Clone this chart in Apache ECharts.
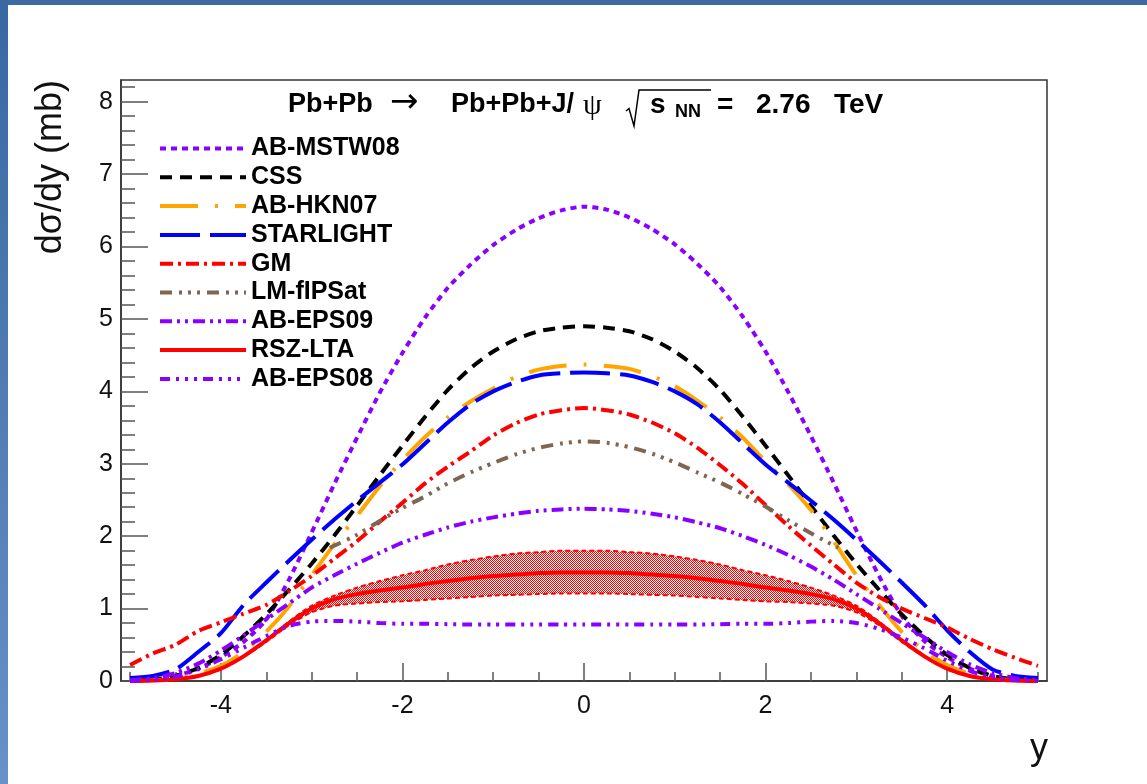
<!DOCTYPE html>
<html><head><meta charset="utf-8">
<script src="https://cdn.jsdelivr.net/npm/echarts@6/dist/echarts.min.js"></script>
<style>html,body{margin:0;padding:0;background:#fff;}#c{width:1147px;height:784px;}</style>
</head><body><div id="c"></div>
<script>
// ---- data ----
const X = [-5,-4.75,-4.5,-4.25,-4,-3.75,-3.5,-3.25,-3,-2.75,-2.5,-2.25,-2,-1.75,-1.5,-1.25,-1,-0.75,-0.5,-0.25,0,0.25,0.5,0.75,1,1.25,1.5,1.75,2,2.25,2.5,2.75,3,3.25,3.5,3.75,4,4.25,4.5,4.75,5];
const AB_MSTW08 = [0.00,0.02,0.07,0.17,0.33,0.54,0.85,1.40,2.05,2.72,3.36,3.98,4.53,5.02,5.43,5.75,6.02,6.23,6.39,6.50,6.55,6.51,6.40,6.24,6.03,5.76,5.44,5.03,4.55,3.99,3.38,2.74,2.08,1.45,0.90,0.55,0.33,0.17,0.07,0.02,0.00];
const CSS = [0.005,0.02,0.07,0.18,0.36,0.62,0.92,1.26,1.62,2.01,2.42,2.84,3.25,3.65,4.02,4.32,4.55,4.72,4.83,4.88,4.90,4.88,4.83,4.72,4.55,4.32,4.02,3.65,3.25,2.84,2.42,2.01,1.62,1.26,0.92,0.62,0.36,0.18,0.07,0.02,0.005];
const AB_HKN07 = [0.00,0.01,0.03,0.10,0.21,0.40,0.68,1.03,1.46,1.89,2.28,2.69,3.05,3.37,3.64,3.86,4.04,4.20,4.30,4.35,4.37,4.35,4.31,4.21,4.07,3.87,3.64,3.36,3.03,2.72,2.36,1.93,1.46,1.05,0.68,0.42,0.22,0.10,0.04,0.01,0.00];
const STARLIGHT = [0.04,0.07,0.16,0.40,0.66,1.05,1.36,1.66,1.95,2.23,2.49,2.74,2.99,3.28,3.57,3.82,4.00,4.13,4.22,4.25,4.26,4.25,4.22,4.13,4.00,3.82,3.57,3.28,2.99,2.74,2.49,2.23,1.95,1.66,1.36,1.05,0.70,0.40,0.16,0.07,0.04];
const GM = [0.22,0.38,0.50,0.69,0.81,0.93,1.05,1.24,1.45,1.69,1.93,2.20,2.46,2.73,2.96,3.17,3.39,3.56,3.68,3.74,3.77,3.74,3.68,3.57,3.42,3.22,2.98,2.72,2.43,2.14,1.87,1.61,1.36,1.16,1.00,0.87,0.74,0.58,0.44,0.32,0.21];
const X_LM = [-2.8,-2.5,-2.25,-2,-1.75,-1.5,-1.25,-1,-0.75,-0.5,-0.25,0,0.25,0.5,0.75,1,1.25,1.5,1.75,2,2.25,2.5,2.8];
const LM_fIPSat = [1.84,2.02,2.21,2.39,2.55,2.73,2.88,3.01,3.13,3.22,3.28,3.31,3.29,3.23,3.14,3.02,2.88,2.74,2.58,2.41,2.22,2.04,1.84];
const AB_EPS09 = [0.01,0.04,0.11,0.24,0.42,0.63,0.85,1.07,1.29,1.46,1.62,1.77,1.91,2.02,2.12,2.20,2.26,2.31,2.35,2.37,2.38,2.37,2.35,2.31,2.26,2.19,2.11,2.00,1.88,1.74,1.58,1.40,1.20,1.00,0.80,0.60,0.40,0.23,0.11,0.04,0.01];
const RSZ_LTA = [0.0,0.008,0.025,0.07,0.17,0.34,0.56,0.80,1.00,1.13,1.20,1.25,1.29,1.34,1.38,1.42,1.45,1.47,1.49,1.50,1.50,1.50,1.49,1.47,1.45,1.42,1.38,1.34,1.29,1.25,1.20,1.13,1.00,0.80,0.56,0.34,0.17,0.07,0.025,0.008,0.0];
const RSZ_UP = [0.0,0.008,0.025,0.07,0.17,0.35,0.57,0.82,1.04,1.18,1.29,1.38,1.46,1.53,1.61,1.67,1.72,1.76,1.78,1.80,1.80,1.80,1.78,1.76,1.72,1.67,1.61,1.53,1.46,1.38,1.29,1.18,1.04,0.82,0.57,0.35,0.17,0.07,0.025,0.008,0.0];
const RSZ_LO = [0.0,0.008,0.025,0.07,0.16,0.33,0.54,0.77,0.95,1.04,1.07,1.09,1.10,1.12,1.14,1.16,1.18,1.19,1.20,1.21,1.21,1.21,1.20,1.19,1.18,1.16,1.14,1.12,1.10,1.09,1.07,1.04,0.95,0.77,0.54,0.33,0.16,0.07,0.025,0.008,0.0];
const AB_EPS08 = [0.0,0.015,0.06,0.16,0.30,0.46,0.62,0.76,0.82,0.83,0.82,0.80,0.79,0.79,0.785,0.78,0.78,0.78,0.78,0.78,0.78,0.78,0.78,0.78,0.78,0.78,0.785,0.79,0.79,0.80,0.82,0.83,0.80,0.72,0.60,0.45,0.28,0.14,0.05,0.015,0.0];
const LEGEND_NAMES = ['AB-MSTW08','CSS','AB-HKN07','STARLIGHT','GM','LM-fIPSat','AB-EPS09','RSZ-LTA','AB-EPS08'];
const X_MAJOR = [-4,-2,0,2,4];
const X_MINOR = [-5,-4.5,-3.5,-3,-2.5,-1.5,-1,-0.5,0.5,1,1.5,2.5,3,3.5,4.5,5];
const Y_MAJOR = [0,1,2,3,4,5,6,7,8];
const Y_MINOR = [0.2,0.4,0.6,0.8,1.2,1.4,1.6,1.8,2.2,2.4,2.6,2.8,3.2,3.4,3.6,3.8,4.2,4.4,4.6,4.8,5.2,5.4,5.6,5.8,6.2,6.4,6.6,6.8,7.2,7.4,7.6,7.8,8.2];

// ---- styling ----
const FONT = '"Liberation Sans", Arial, Helvetica, sans-serif';
const VIOLET = '#8a00ff';
const pairs = (xs, ys) => xs.map((x, i) => [x, ys[i]]);
const seriesDefs = [
  {name:'AB-MSTW08', xs:X, ys:AB_MSTW08, color:VIOLET, dash:[6,5]},
  {name:'CSS', xs:X, ys:CSS, color:'#000000', dash:[12,8]},
  {name:'AB-HKN07', xs:X, ys:AB_HKN07, color:'#ffa500', dash:[38,17,3,17]},
  {name:'STARLIGHT', xs:X, ys:STARLIGHT, color:'#0000ff', dash:[40,10]},
  {name:'GM', xs:X, ys:GM, color:'#ff0000', dash:[13,5,3,5]},
  {name:'LM-fIPSat', xs:X_LM, ys:LM_fIPSat, color:'#7f6652', dash:[12,7,3,6,3,6,3,7]},
  {name:'AB-EPS09', xs:X, ys:AB_EPS09, color:VIOLET, dash:[12,5,3,5,3,5]},
  {name:'RSZ-LTA', xs:X, ys:RSZ_LTA, color:'#ff0000', dash:'solid'},
  {name:'AB-EPS08', xs:X, ys:AB_EPS08, color:VIOLET, dash:[10,6,3,6,3,6,3,6]}
];

// checkered red pattern for the RSZ-LTA band
const pc = document.createElement('canvas');
pc.width = 2; pc.height = 2;
const pctx = pc.getContext('2d');
pctx.fillStyle = '#ff0000';
pctx.fillRect(0,0,1,1); pctx.fillRect(1,1,1,1);
const bandFill = {image: pc, repeat: 'repeat'};

const series = [];
series.push({
  type:'custom', name:'RSZ band', xAxisIndex:0, yAxisIndex:0, z:1, silent:true, clip:true,
  data:[[0,0]], encode:{x:0, y:1},
  renderItem:(params, api) => {
    if (params.dataIndex !== 0) return null;
    const pts = [];
    for (let i = 0; i < X.length; i++) pts.push(api.coord([X[i], RSZ_UP[i]]));
    for (let i = X.length - 1; i >= 0; i--) pts.push(api.coord([X[i], RSZ_LO[i]]));
    return {type:'polygon', shape:{points:pts, smooth:0.25}, style:{fill:bandFill, stroke:null}};
  }
});
[RSZ_UP, RSZ_LO].forEach((arr, k) => series.push({
  type:'line', name:'RSZ edge ' + k, data:pairs(X, arr), showSymbol:false, symbol:'none',
  smooth:0.25, silent:true, z:2,
  lineStyle:{color:'#ff0000', width:2, type:[5,3]}
}));
seriesDefs.forEach(d => series.push({
  type:'line', name:d.name, data:pairs(d.xs, d.ys), showSymbol:false, symbol:'none',
  smooth:0.25, z:3,
  itemStyle:{color:d.color},
  lineStyle:{color:d.color, width:4, type:d.dash}
}));

const tickStyle = {color:'#555', width:1.5};
const option = {
  animation:false,
  backgroundColor:'#ffffff',
  grid:{left:121, right:100, top:80, bottom:103, show:true, borderColor:'#333', borderWidth:1.5, backgroundColor:'transparent'},
  xAxis:[
    {type:'value', min:-5.1, max:5.1, position:'bottom',
     axisLine:{show:true, onZero:false, lineStyle:{color:'#333', width:1.5}},
     axisTick:{show:true, inside:true, length:18, customValues:X_MAJOR, lineStyle:tickStyle},
     axisLabel:{show:true, customValues:X_MAJOR, fontSize:25, fontFamily:FONT, color:'#111', margin:13},
     splitLine:{show:false}},
    {type:'value', min:-5.1, max:5.1, position:'bottom',
     axisLine:{show:false, onZero:false},
     axisTick:{show:true, inside:true, length:9, customValues:X_MINOR, lineStyle:tickStyle},
     axisLabel:{show:false}, splitLine:{show:false}}
  ],
  yAxis:[
    {type:'value', min:0, max:8.3, position:'left',
     axisLine:{show:true, onZero:false, lineStyle:{color:'#333', width:1.5}},
     axisTick:{show:true, inside:true, length:27, customValues:Y_MAJOR, lineStyle:tickStyle},
     axisLabel:{show:true, customValues:Y_MAJOR, fontSize:25, fontFamily:FONT, color:'#111', margin:8},
     splitLine:{show:false}},
    {type:'value', min:0, max:8.3, position:'left',
     axisLine:{show:false, onZero:false},
     axisTick:{show:true, inside:true, length:14, customValues:Y_MINOR, lineStyle:tickStyle},
     axisLabel:{show:false}, splitLine:{show:false}}
  ],
  legend:{
    orient:'vertical', left:153, top:131, itemWidth:86, itemHeight:12, itemGap:3.8,
    selectedMode:false, data:LEGEND_NAMES,
    itemStyle:{opacity:0},
    lineStyle:{width:4},
    textStyle:{fontFamily:FONT, fontSize:25, fontWeight:'bold', color:'#000', lineHeight:25}
  },
  graphic:[
    {type:'rect', silent:true, shape:{x:0, y:0, width:1147, height:5}, style:{fill:'#3d6aa3'}},
    {type:'rect', silent:true, shape:{x:0, y:0, width:8, height:784},
     style:{fill:new echarts.graphic.LinearGradient(0,0,0,1,[{offset:0,color:'#3a67a0'},{offset:1,color:'#6791c7'}])}},
    {type:'text', x:51, y:80, rotation:Math.PI/2,
     style:{text:'dσ/dy (mb)', font:'36px ' + FONT, fill:'#111', align:'right', verticalAlign:'middle'}},
    {type:'text', x:1048, y:749,
     style:{text:'y', font:'36px ' + FONT, fill:'#111', align:'right', verticalAlign:'middle'}},
    {type:'text', x:288, y:105, style:{text:'Pb+Pb', font:'bold 27px ' + FONT, fill:'#000', align:'left', verticalAlign:'middle'}},
    {type:'text', x:390, y:103, style:{text:'→', font:'34px "DejaVu Sans", sans-serif', fill:'#000', align:'left', verticalAlign:'middle'}},
    {type:'text', x:451, y:105, style:{text:'Pb+Pb+J/', font:'bold 27px ' + FONT, fill:'#000', align:'left', verticalAlign:'middle'}},
    {type:'text', x:583, y:106, style:{text:'ψ', font:'30px "Liberation Serif", "DejaVu Serif", serif', fill:'#000', align:'left', verticalAlign:'middle'}},
    {type:'polyline', silent:true, shape:{points:[[626,111],[629,108.5],[634,126],[639,90],[711,90]]}, style:{stroke:'#000', lineWidth:1.5, fill:null}},
    {type:'text', x:650, y:105, style:{text:'s', font:'bold 28px ' + FONT, fill:'#000', align:'left', verticalAlign:'middle'}},
    {type:'text', x:675, y:112, style:{text:'NN', font:'bold 18px ' + FONT, fill:'#000', align:'left', verticalAlign:'middle'}},
    {type:'text', x:717, y:105, style:{text:'=', font:'bold 28px ' + FONT, fill:'#000', align:'left', verticalAlign:'middle'}},
    {type:'text', x:756, y:105, style:{text:'2.76', font:'bold 28px ' + FONT, fill:'#000', align:'left', verticalAlign:'middle'}},
    {type:'text', x:834, y:105, style:{text:'TeV', font:'bold 28px ' + FONT, fill:'#000', align:'left', verticalAlign:'middle'}}
  ],
  series:series
};
const chart = echarts.init(document.getElementById('c'), null, {renderer:'canvas'});
chart.setOption(option);
</script>
</body></html>
